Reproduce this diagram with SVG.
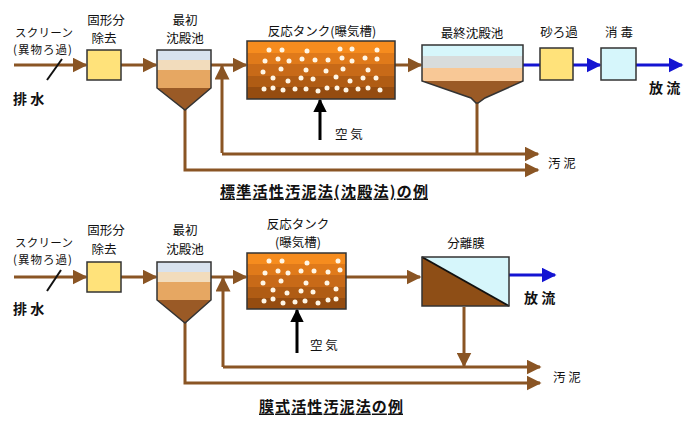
<svg xmlns="http://www.w3.org/2000/svg" width="695" height="423" viewBox="0 0 695 423">
<style>
text{font-family:"Noto Sans CJK JP","Noto Sans",sans-serif;font-size:12.5px;fill:#111;dominant-baseline:central}
.c{text-anchor:middle}
.s{font-size:11.5px}
.b{font-weight:bold;font-size:14px}
.t{font-weight:bold;font-size:15px;text-decoration:underline}
.br{stroke:#8a5524;stroke-width:3;fill:none}
.bl{stroke:#1414d2;stroke-width:3;fill:none}
.bk{stroke:#000;stroke-width:3;fill:none}
.box{stroke:#333;stroke-width:1.5}
.yel{fill:#ffe27a}
.cy{fill:#d6f6fb}
.bub circle{fill:#fff6e6}
</style>
<defs>
<marker id="ab" viewBox="0 0 10 10" refX="9" refY="5" markerWidth="5" markerHeight="5" orient="auto" markerUnits="strokeWidth"><path d="M0,0L10,5L0,10z" fill="#8a5524"/></marker>
<marker id="abl" viewBox="0 0 10 10" refX="9" refY="5" markerWidth="5" markerHeight="5" orient="auto" markerUnits="strokeWidth"><path d="M0,0L10,5L0,10z" fill="#1414d2"/></marker>
<marker id="abk" viewBox="0 0 10 10" refX="9" refY="5" markerWidth="4.5" markerHeight="4.5" orient="auto" markerUnits="strokeWidth"><path d="M0,0L10,5L0,10z" fill="#000"/></marker>
<linearGradient id="tank" x1="0" y1="0" x2="0" y2="1">
<stop offset="0" stop-color="#f68c1e"/><stop offset="0.2" stop-color="#f68c1e"/>
<stop offset="0.2" stop-color="#e07a1a"/><stop offset="0.4" stop-color="#e07a1a"/>
<stop offset="0.4" stop-color="#c86a18"/><stop offset="0.6" stop-color="#c86a18"/>
<stop offset="0.6" stop-color="#b05c14"/><stop offset="0.8" stop-color="#b05c14"/>
<stop offset="0.8" stop-color="#954c10"/><stop offset="1" stop-color="#954c10"/>
</linearGradient>
</defs>

<!-- ===== Top diagram ===== -->
<g id="top-labels">
<text x="15" y="32" class="s" textLength="58">スクリーン</text>
<text x="13" y="49" class="s" textLength="59">(異物ろ過)</text>
<text x="13" y="98" class="b">排 水</text>
<text x="106" y="19" class="c">固形分</text>
<text x="104" y="37.5" class="c">除去</text>
<text x="185" y="19" class="c">最初</text>
<text x="185" y="37.5" class="c">沈殿池</text>
<text x="322" y="30" class="c">反応タンク(曝気槽)</text>
<text x="335" y="133">空 気</text>
<text x="472" y="32" class="c">最終沈殿池</text>
<text x="559" y="31" class="c">砂ろ過</text>
<text x="619" y="31" class="c">消 毒</text>
<text x="649" y="87" class="b">放 流</text>
<text x="548" y="162">汚 泥</text>
<text x="220" y="190" class="t" textLength="208">標準活性汚泥法(沈殿法)の例</text>
</g>

<g id="connectors-top">
<line x1="14" y1="65" x2="86" y2="65" class="br" marker-end="url(#ab)"/>
<line x1="62" y1="59" x2="47" y2="80" stroke="#111" stroke-width="2"/>
<line x1="121" y1="65" x2="156" y2="65" class="br" marker-end="url(#ab)"/>
<line x1="211" y1="65" x2="246" y2="65" class="br" marker-end="url(#ab)"/>
<polyline points="222,153 222,66" class="br" marker-end="url(#ab)"/>
<polyline points="222,154 538,154" class="br" marker-end="url(#ab)"/>
<polyline points="185,108 185,170 538,170" class="br" marker-end="url(#ab)"/>
<line x1="477" y1="102" x2="477" y2="154" class="br"/>
<line x1="395" y1="65" x2="421" y2="65" class="br" marker-end="url(#ab)"/>
<line x1="523" y1="65" x2="540" y2="65" class="bl"/>
<line x1="573" y1="65" x2="600" y2="65" class="bl" marker-end="url(#abl)"/>
<line x1="636" y1="65" x2="682" y2="65" class="bl" marker-end="url(#abl)"/>
<line x1="320" y1="140" x2="320" y2="100" class="bk" marker-end="url(#abk)"/>
</g>

<g id="screen-solid-top"><rect x="87" y="50" width="34" height="30" class="box yel"/></g>

<g id="primary-top">
<rect x="157" y="50" width="54" height="10" fill="#d8e2ee"/>
<rect x="157" y="60" width="54" height="10" fill="#f2dcbc"/>
<rect x="157" y="70" width="54" height="18" fill="#e6a762"/>
<polygon points="157,88 211,88 185,110" fill="#9a5a26"/>
<polygon points="157,50 211,50 211,88 185,110 157,88" fill="none" class="box"/>
</g>

<g id="tank-top">
<rect x="247" y="41" width="148" height="58" fill="url(#tank)" class="box"/>
<g class="bub">
<circle cx="269" cy="50" r="2.5"/><circle cx="282" cy="50" r="2.5"/><circle cx="307" cy="51" r="2.5"/><circle cx="340" cy="49" r="2.5"/><circle cx="352" cy="49" r="2.5"/><circle cx="377" cy="50" r="2.5"/>
<circle cx="265" cy="61" r="2.5"/><circle cx="278" cy="59" r="2.5"/><circle cx="289" cy="61" r="2.5"/><circle cx="302" cy="59" r="2.5"/><circle cx="315" cy="60" r="2.5"/><circle cx="328" cy="60" r="2.5"/><circle cx="342" cy="58" r="2.5"/><circle cx="352" cy="61" r="2.5"/><circle cx="365" cy="58" r="2.5"/><circle cx="377" cy="59" r="2.5"/>
<circle cx="263" cy="72" r="2.5"/><circle cx="281" cy="69" r="2.5"/><circle cx="306" cy="70" r="2.5"/><circle cx="326" cy="71" r="2.5"/><circle cx="343" cy="69" r="2.5"/><circle cx="368" cy="70" r="2.5"/>
<circle cx="273" cy="78" r="2.5"/><circle cx="288" cy="81" r="2.5"/><circle cx="301" cy="78" r="2.5"/><circle cx="313" cy="79" r="2.5"/><circle cx="336" cy="77" r="2.5"/><circle cx="350" cy="81" r="2.5"/><circle cx="363" cy="78" r="2.5"/><circle cx="376" cy="78" r="2.5"/>
<circle cx="264" cy="89" r="2.5"/><circle cx="273" cy="88" r="2.5"/><circle cx="283" cy="90" r="2.5"/><circle cx="295" cy="89" r="2.5"/><circle cx="306" cy="89" r="2.5"/><circle cx="318" cy="91" r="2.5"/><circle cx="327" cy="88" r="2.5"/><circle cx="337" cy="88" r="2.5"/><circle cx="346" cy="90" r="2.5"/><circle cx="358" cy="89" r="2.5"/><circle cx="368" cy="88" r="2.5"/><circle cx="380" cy="90" r="2.5"/>
</g>
</g>

<g id="final-top">
<rect x="422" y="45" width="101" height="11" fill="#d6f6fb"/>
<rect x="422" y="56" width="101" height="12" fill="#d8dcdc"/>
<rect x="422" y="68" width="101" height="13" fill="#f8c896"/>
<polygon points="422,81 523,81 485,98 478,103 476,103 471,98" fill="#9a5a26"/>
<polygon points="422,45 523,45 523,81 485,98 478,103 476,103 471,98 422,81" fill="none" class="box"/>
</g>

<g id="sand-top"><rect x="540" y="48" width="33" height="32" class="box yel"/></g>
<g id="disinfect-top"><rect x="601" y="48" width="35" height="32" class="box cy"/></g>

<!-- ===== Bottom diagram ===== -->
<g id="bottom-labels">
<text x="15" y="242" class="s" textLength="58">スクリーン</text>
<text x="13" y="259" class="s" textLength="59">(異物ろ過)</text>
<text x="13" y="308" class="b">排 水</text>
<text x="106" y="229.5" class="c">固形分</text>
<text x="104" y="248" class="c">除去</text>
<text x="185" y="229.5" class="c">最初</text>
<text x="185" y="248" class="c">沈殿池</text>
<text x="298" y="223" class="c">反応タンク</text>
<text x="298" y="241.5" class="c">(曝気槽)</text>
<text x="310" y="344">空 気</text>
<text x="466" y="242" class="c">分離膜</text>
<text x="524" y="297" class="b">放 流</text>
<text x="553" y="376">汚 泥</text>
<text x="259" y="405" class="t" textLength="144">膜式活性汚泥法の例</text>
</g>

<g id="connectors-bottom">
<line x1="14" y1="277" x2="86" y2="277" class="br" marker-end="url(#ab)"/>
<line x1="61" y1="270" x2="47" y2="291" stroke="#111" stroke-width="2"/>
<line x1="121" y1="277" x2="156" y2="277" class="br" marker-end="url(#ab)"/>
<line x1="211" y1="277" x2="246" y2="277" class="br" marker-end="url(#ab)"/>
<polyline points="223,367 223,278" class="br" marker-end="url(#ab)"/>
<polyline points="223,367 540,367" class="br" marker-end="url(#ab)"/>
<polyline points="185,321 185,383 540,383" class="br" marker-end="url(#ab)"/>
<line x1="346" y1="277" x2="420" y2="277" class="br" marker-end="url(#ab)"/>
<line x1="464" y1="307" x2="464" y2="366" class="br" marker-end="url(#ab)"/>
<line x1="509" y1="275" x2="555" y2="275" class="bl" marker-end="url(#abl)"/>
<line x1="297" y1="353" x2="297" y2="310" class="bk" marker-end="url(#abk)"/>
</g>

<g id="screen-solid-bottom"><rect x="87" y="262" width="34" height="30" class="box yel"/></g>

<g id="primary-bottom">
<rect x="157" y="262" width="54" height="10" fill="#d8e2ee"/>
<rect x="157" y="272" width="54" height="10" fill="#f2dcbc"/>
<rect x="157" y="282" width="54" height="18" fill="#e6a762"/>
<polygon points="157,300 211,300 185,323" fill="#9a5a26"/>
<polygon points="157,262 211,262 211,300 185,323 157,300" fill="none" class="box"/>
</g>

<g id="tank-bottom">
<rect x="247" y="253" width="99" height="56" fill="url(#tank)" class="box"/>
<g class="bub">
<circle cx="269" cy="261" r="2.5"/><circle cx="282" cy="261" r="2.5"/><circle cx="307" cy="263" r="2.5"/><circle cx="338" cy="261" r="2.5"/>
<circle cx="265" cy="273" r="2.5"/><circle cx="278" cy="271" r="2.5"/><circle cx="288" cy="273" r="2.5"/><circle cx="301" cy="271" r="2.5"/><circle cx="314" cy="271" r="2.5"/><circle cx="328" cy="272" r="2.5"/><circle cx="340" cy="270" r="2.5"/>
<circle cx="263" cy="283" r="2.5"/><circle cx="281" cy="281" r="2.5"/><circle cx="306" cy="283" r="2.5"/><circle cx="327" cy="283" r="2.5"/>
<circle cx="273" cy="290" r="2.5"/><circle cx="287" cy="293" r="2.5"/><circle cx="301" cy="291" r="2.5"/><circle cx="313" cy="292" r="2.5"/><circle cx="336" cy="289" r="2.5"/>
<circle cx="264" cy="301" r="2.5"/><circle cx="273" cy="299" r="2.5"/><circle cx="283" cy="303" r="2.5"/><circle cx="295" cy="302" r="2.5"/><circle cx="305" cy="301" r="2.5"/><circle cx="318" cy="303" r="2.5"/><circle cx="328" cy="300" r="2.5"/><circle cx="336" cy="299" r="2.5"/>
</g>
</g>

<g id="membrane-bottom">
<rect x="422" y="257" width="87" height="49" fill="#d6f6fb"/>
<polygon points="422,257 509,306 422,306" fill="#8e4e16"/>
<line x1="422" y1="257" x2="509" y2="306" stroke="#111" stroke-width="2"/>
<rect x="422" y="257" width="87" height="49" fill="none" class="box"/>
</g>
</svg>
